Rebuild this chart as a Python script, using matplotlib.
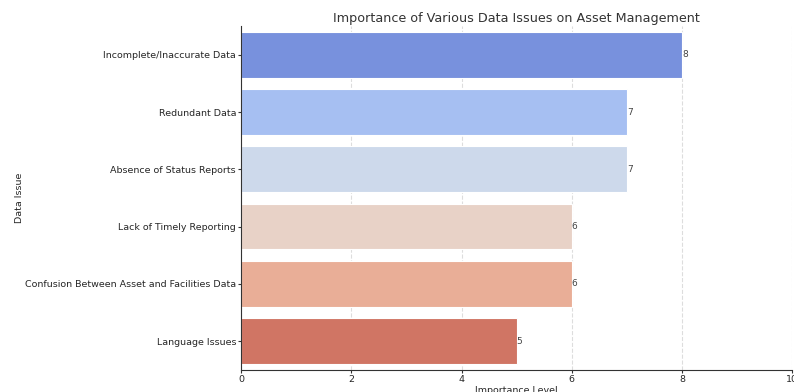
import matplotlib
matplotlib.use("Agg")
import matplotlib.pyplot as plt
import seaborn as sns
import pandas as pd

issues = ["Incomplete/Inaccurate Data", "Redundant Data", "Absence of Status Reports",
          "Lack of Timely Reporting", "Confusion Between Asset and Facilities Data",
          "Language Issues"]
importance = [8, 7, 7, 6, 6, 5]

sns.set_style("whitegrid", {"grid.linestyle": "--"})
plt.rcParams['font.family'] = ['DejaVu Sans']

fig = plt.figure(figsize=(7.94, 3.92), dpi=100)
ax = fig.add_axes([0.3035, 0.057, 0.6945, 0.876])
df = pd.DataFrame({"Data Issue": issues, "Importance Level": importance})
sns.barplot(data=df, x="Importance Level", y="Data Issue", hue="Data Issue",
            palette="coolwarm", legend=False, ax=ax, edgecolor="white", linewidth=0.8)
for p, v in zip(ax.patches, importance):
    ax.text(p.get_width(), p.get_y() + p.get_height() / 2, str(v),
            va="center", ha="left", fontsize=6.5, color="#444444")
ax.set_xlim(0, 10)
ax.set_xticks([0, 2, 4, 6, 8, 10])
ax.grid(axis="y", visible=False)
ax.grid(axis="x", linestyle="--", color="#dddddd", linewidth=0.8)
for s in ["top", "right"]:
    ax.spines[s].set_visible(False)
for s in ["left", "bottom"]:
    ax.spines[s].set_color("#333333")
    ax.spines[s].set_linewidth(0.8)
ax.tick_params(axis="both", labelsize=6.8, length=2, color="#333333", left=True, bottom=True, pad=1.5)
ax.set_title("Importance of Various Data Issues on Asset Management", fontsize=9.2, color="#333333", pad=3)
ax.set_xlabel("Importance Level", fontsize=6.8, labelpad=2)
ax.set_ylabel("Data Issue", fontsize=6.8, labelpad=1)
fig.savefig("out.png", dpi=100)
